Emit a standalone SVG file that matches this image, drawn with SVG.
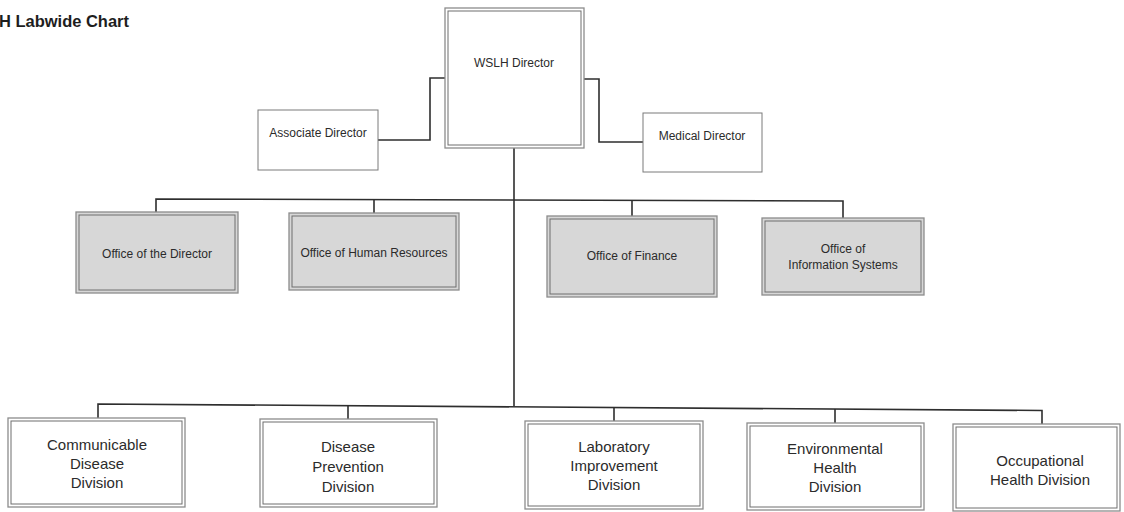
<svg xmlns="http://www.w3.org/2000/svg" width="1124" height="512" viewBox="0 0 1124 512">
<style>
.bg{fill:#ffffff}
.o{fill:#ffffff;stroke:#8c8c8c;stroke-width:1.3}
.i{fill:none;stroke:#6e6e6e;stroke-width:1}
.g{fill:#d7d7d7}
.s{fill:#ffffff;stroke:#7a7a7a;stroke-width:1}
.c{fill:none;stroke:#2e2e2e;stroke-width:1.6}
.t{font-family:"Liberation Sans",Arial,sans-serif;font-size:12px;fill:#2b2b2b;text-anchor:middle}
.b{font-family:"Liberation Sans",Arial,sans-serif;font-size:15px;fill:#2b2b2b;text-anchor:middle}
.h{font-family:"Liberation Sans",Arial,sans-serif;font-size:16px;font-weight:bold;fill:#1e1e1e}
</style>
<rect class="bg" x="0" y="0" width="1124" height="512"/>
<text class="h" x="-1" y="27" textLength="130" lengthAdjust="spacingAndGlyphs">H Labwide Chart</text>

<g id="connectors">
<path class="c" d="M378,140 H430 V78 H445"/>
<path class="c" d="M584,79 H599 V142 H643"/>
<path class="c" d="M514,148 V406"/>
<path class="c" d="M156,212 V199 L843,201 V218"/>
<path class="c" d="M374,199.6 V213"/>
<path class="c" d="M632,200.4 V216"/>
<path class="c" d="M98,418 V404 L1042,410.5 V424"/>
<path class="c" d="M348,405.7 V419"/>
<path class="c" d="M614,407.5 V421"/>
<path class="c" d="M835,409 V423"/>
</g>

<g id="wslh-director">
<rect class="o" x="445" y="8" width="139" height="140"/>
<rect class="i" x="448" y="11" width="133" height="134"/>
<text class="t" x="514" y="67">WSLH Director</text>
</g>

<g id="associate-director">
<rect class="s" x="258" y="110" width="120" height="60"/>
<text class="t" x="318" y="137">Associate Director</text>
</g>

<g id="medical-director">
<rect class="s" x="643" y="113" width="119" height="59"/>
<text class="t" x="702" y="140">Medical Director</text>
</g>

<g id="office-director">
<rect class="o g" x="76" y="212" width="162" height="81"/>
<rect class="i" x="79" y="215" width="156" height="75"/>
<text class="t" x="157" y="258">Office of the Director</text>
</g>

<g id="office-hr">
<rect class="o g" x="289" y="213" width="170" height="77"/>
<rect class="i" x="292" y="216" width="164" height="71"/>
<text class="t" x="374" y="257">Office of Human Resources</text>
</g>

<g id="office-finance">
<rect class="o g" x="547" y="216" width="170" height="81"/>
<rect class="i" x="550" y="219" width="164" height="75"/>
<text class="t" x="632" y="260">Office of Finance</text>
</g>

<g id="office-is">
<rect class="o g" x="762" y="218" width="162" height="77"/>
<rect class="i" x="765" y="221" width="156" height="71"/>
<text class="t" x="843" y="253">Office of</text>
<text class="t" x="843" y="269">Information Systems</text>
</g>

<g id="communicable">
<rect class="o" x="8" y="418" width="177" height="89"/>
<rect class="i" x="11" y="421" width="171" height="83"/>
<text class="b" x="97" y="450">Communicable</text>
<text class="b" x="97" y="469">Disease</text>
<text class="b" x="97" y="488">Division</text>
</g>

<g id="disease-prevention">
<rect class="o" x="260" y="419" width="177" height="88"/>
<rect class="i" x="263" y="422" width="171" height="82"/>
<text class="b" x="348" y="452">Disease</text>
<text class="b" x="348" y="472">Prevention</text>
<text class="b" x="348" y="492">Division</text>
</g>

<g id="laboratory-improvement">
<rect class="o" x="525" y="421" width="178" height="88"/>
<rect class="i" x="528" y="424" width="172" height="82"/>
<text class="b" x="614" y="452">Laboratory</text>
<text class="b" x="614" y="471">Improvement</text>
<text class="b" x="614" y="490">Division</text>
</g>

<g id="environmental-health">
<rect class="o" x="747" y="423" width="177" height="87"/>
<rect class="i" x="750" y="426" width="171" height="81"/>
<text class="b" x="835" y="454">Environmental</text>
<text class="b" x="835" y="473">Health</text>
<text class="b" x="835" y="492">Division</text>
</g>

<g id="occupational-health">
<rect class="o" x="953" y="424" width="167" height="87"/>
<rect class="i" x="956" y="427" width="161" height="81"/>
<text class="b" x="1040" y="466">Occupational</text>
<text class="b" x="1040" y="485">Health Division</text>
</g>
</svg>
